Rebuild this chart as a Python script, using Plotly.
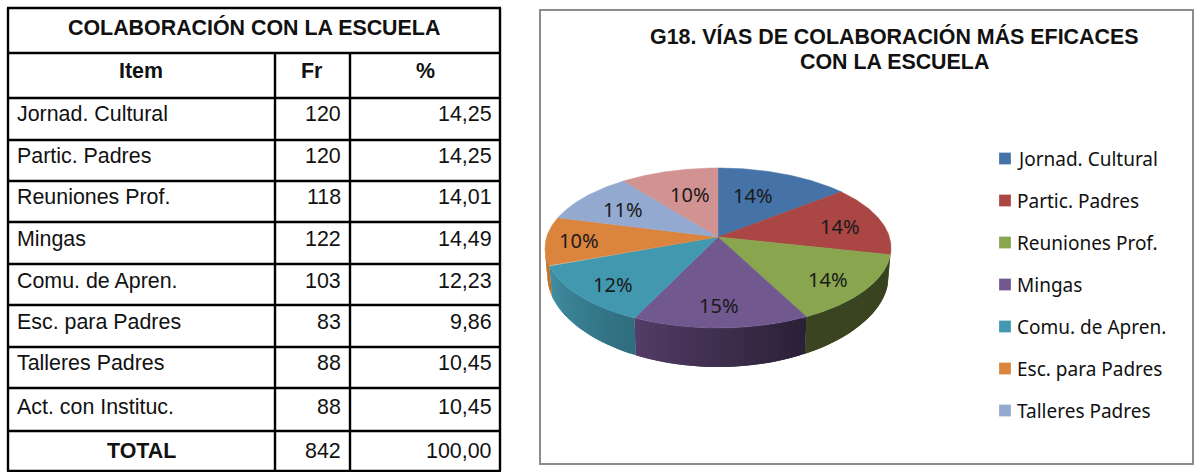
import numpy as np
import plotly.graph_objects as go

# ---------- data ----------
table_title = "COLABORACIÓN CON LA ESCUELA"
chart_title_lines = ["G18. VÍAS DE COLABORACIÓN MÁS EFICACES", "CON LA ESCUELA"]
col_headers = ["Item", "Fr", "%"]
items = ["Jornad. Cultural", "Partic. Padres", "Reuniones Prof.", "Mingas",
         "Comu. de Apren.", "Esc. para Padres", "Talleres Padres", "Act. con Instituc."]
freq = [120, 120, 118, 122, 103, 83, 88, 88]
pct_text = ["14,25", "14,25", "14,01", "14,49", "12,23", "9,86", "10,45", "10,45"]
total_label = "TOTAL"
total_freq = "842"
total_pct = "100,00"
pie_labels = ["14%", "14%", "14%", "15%", "12%", "10%", "11%", "10%"]
legend_items = items[:7]

# ---------- styles ----------
W, H = 1201, 472
top_colors = ["#4572a7", "#aa4643", "#89a54e", "#71588f", "#4198af", "#db843d", "#93a9cf", "#d19392"]
wall_left = ["#4572a7", "#5c2a28", "#3b4521", "#533c66", "#418da2", "#c0722f", "#93a9cf", "#d19392"]
wall_right = ["#4572a7", "#4d2422", "#39431f", "#2b2137", "#2f6e7f", "#c0722f", "#93a9cf", "#d19392"]
label_shift = [(-8, 1), (20, 0), (21, -11), (-1, -15), (-22, -12), (-32, -1), (-10, 2), (4, 0)]
ROW_LINES = [8, 53, 98, 140, 181, 222, 264, 305, 347, 388, 431, 471]
COL_LINES = [8, 275, 350, 500]
ROW_NUDGE = [-4.5, -4.5, -4, -4.5, -4, -4.5, -4.5, -3]
ARIAL = "Liberation Sans"
LEG_FONT = "Noto Sans"
TXT = 21.4

# ---------- projection: tilted disc seen in perspective ----------
K = 0.1375          # perspective strength
CX, CY = 718, 237   # apex position, px
SX, SY = 171.4, 78.5  # px per axis unit


def project(theta, r=1.0):
    s, c = np.sin(theta), np.cos(theta)
    d = 1 + K * c * r
    return r * s / d, r * c / d


def wall_drop(theta):
    return (29 + 10 * np.cos(theta) ** 2) / SY


def hex2rgb(h):
    return np.array([int(h[i:i + 2], 16) for i in (1, 3, 5)], float)


total = sum(freq)
edges = 2 * np.pi * np.concatenate([[0], np.cumsum(freq)]) / total
side_start = np.arccos(-K)
side_end = 2 * np.pi - side_start

fig = go.Figure()

# side walls, drawn as shaded strips that overlap the next one to hide seams
for i in range(len(freq)):
    a0, a1 = max(edges[i], side_start), min(edges[i + 1], side_end)
    if a1 <= a0:
        continue
    n = max(2, int((a1 - a0) / 0.03))
    ts = np.linspace(a0, a1, n + 1)
    step = ts[1] - ts[0]
    for j in range(n):
        end = ts[j + 1] if j == n - 1 else ts[j + 1] + step
        seg = np.linspace(ts[j], end, 4)
        x_top, y_top = project(seg)
        x_bot = x_top * 0.985
        y_bot = y_top - wall_drop(seg)
        f = j / max(n - 1, 1)
        col = (1 - f) * hex2rgb(wall_right[i]) + f * hex2rgb(wall_left[i])
        colour = "rgb(%d,%d,%d)" % tuple(col)
        fig.add_trace(go.Scatter(
            x=np.concatenate([x_top, x_bot[::-1], x_top[:1]]),
            y=np.concatenate([y_top, y_bot[::-1], y_top[:1]]),
            mode="lines", fill="toself", fillcolor=colour,
            line=dict(color=colour, width=0),
            hoverinfo="skip", showlegend=False))

# top face
for i, name in enumerate(items):
    arc = np.linspace(edges[i], edges[i + 1], 80)
    xa, ya = project(arc)
    fig.add_trace(go.Scatter(
        x=np.concatenate([[0], xa, [0]]), y=np.concatenate([[0], ya, [0]]),
        mode="lines", fill="toself", fillcolor=top_colors[i],
        line=dict(color=top_colors[i], width=0.5),
        name=name, hoverinfo="name", showlegend=False))

annotations = []
shapes = []


def px(x):
    return x / W


def py(y):
    return 1 - y / H


def text(x, y, t, size, bold=False, anchor="center", font=ARIAL, color="#111111"):
    annotations.append(dict(
        x=px(x), y=py(y), xref="paper", yref="paper", text=f"<b>{t}</b>" if bold else t,
        showarrow=False, xanchor=anchor, yanchor="middle", align="center",
        font=dict(family=font, size=size, color=color)))


# pie labels
for i, lab in enumerate(pie_labels):
    mid = (edges[i] + edges[i + 1]) / 2
    xl, yl = project(mid, 0.62)
    annotations.append(dict(
        x=float(xl), y=float(yl), xref="x", yref="y", text=lab, showarrow=False,
        xshift=label_shift[i][0], yshift=label_shift[i][1],
        font=dict(family=LEG_FONT, size=20, color="#1a1a1a")))

# table grid
for k, y in enumerate(ROW_LINES):
    shapes.append(dict(type="line", xref="paper", yref="paper", x0=px(COL_LINES[0] - 1), x1=px(COL_LINES[-1] + 1),
                       y0=py(y), y1=py(y), line=dict(color="#000000", width=2.4)))
for k, x in enumerate(COL_LINES):
    top = ROW_LINES[1] if k in (1, 2) else ROW_LINES[0]
    shapes.append(dict(type="line", xref="paper", yref="paper", x0=px(x), x1=px(x),
                       y0=py(top), y1=py(ROW_LINES[-1]), line=dict(color="#000000", width=2.4)))

# table text
text(254, 28, table_title, TXT, bold=True)
text(141, 71, col_headers[0], TXT, bold=True)
text(311, 71, col_headers[1], TXT, bold=True)
text(425, 71, col_headers[2], TXT, bold=True)
for r, (it, fr, pc) in enumerate(zip(items, freq, pct_text)):
    y = (ROW_LINES[r + 2] + ROW_LINES[r + 3]) / 2 + ROW_NUDGE[r]
    text(15, y, it, TXT, anchor="left")
    text(343, y, str(fr), TXT, anchor="right")
    text(494, y, pc, TXT, anchor="right")
y = (ROW_LINES[10] + ROW_LINES[11]) / 2
text(141, y, total_label, TXT, bold=True)
text(343, y, total_freq, TXT, anchor="right")
text(494, y, total_pct, TXT, anchor="right")

# chart frame and title
shapes.append(dict(type="rect", xref="paper", yref="paper", x0=px(540), x1=px(1193), y0=py(10), y1=py(464),
                   line=dict(color="#8c8c8c", width=2), layer="below"))
text(894, 36, chart_title_lines[0], TXT, bold=True)
text(894, 62, chart_title_lines[1], TXT, bold=True)

# legend
for i, name in enumerate(legend_items):
    y = 158.5 + i * 42
    shapes.append(dict(type="rect", xref="paper", yref="paper", x0=px(999), x1=px(1011),
                       y0=py(y - 6), y1=py(y + 6), fillcolor=top_colors[i],
                       line=dict(color="rgba(255,255,255,0.5)", width=0.5)))
    text(1015, y, name, 19, anchor="left", font=LEG_FONT)

fig.update_layout(
    width=W, height=H, autosize=False,
    margin=dict(l=0, r=0, t=0, b=0),
    paper_bgcolor="white", plot_bgcolor="white", showlegend=False,
    xaxis=dict(visible=False, range=[-CX / SX, (W - CX) / SX], domain=[0, 1], fixedrange=True),
    yaxis=dict(visible=False, range=[(CY - H) / SY, CY / SY], domain=[0, 1], fixedrange=True),
    shapes=shapes, annotations=annotations,
)
fig.write_html("out.html", config=dict(displayModeBar=False),
               post_script="document.body.style.margin='0';document.body.style.overflow='hidden';")
